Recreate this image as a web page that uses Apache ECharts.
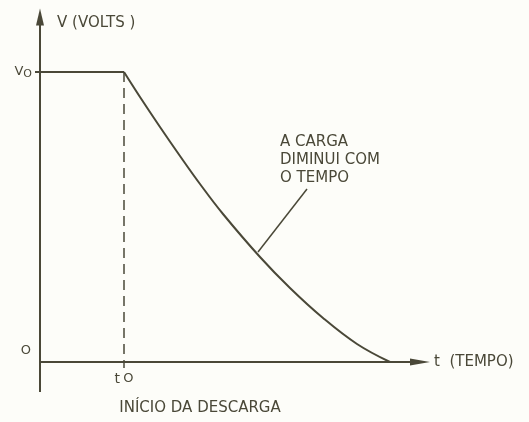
<!DOCTYPE html>
<html lang="pt">
<head>
    <meta charset="UTF-8">
    <title>Descarga</title>
    <script src="https://cdn.jsdelivr.net/npm/echarts@6/dist/echarts.min.js"></script>
</head>
<body style="margin:0; background:#fdfdf9;">

<div id="main" style="width:529px; height:422px;"></div>

<script>
    // valores (unidades arbitrarias)
    var v0 = 290;
    var t0 = 84;
    var flatT = [0, 84];
    var flatV = [290, 290];
    var curveT = [84, 100, 120, 140, 160, 183, 220, 250, 283, 317, 350];
    var curveV = [290, 265, 235, 206, 178, 148, 105, 74, 44, 18, 0];
    var dashT = [84, 84];
    var dashV = [290, -6];
    var leaderT = [218, 267];
    var leaderV = [110, 173];
    // prolongamento dos eixos para alem da origem
    var axisExtT = [-30, 0];
    var axisExtV = [-30, 0];

    var ink = '#4a4838';
    var font = 'DejaVu Sans';

    function pairs(xs, ys) {
        return xs.map(function (x, i) { return [x, ys[i]]; });
    }

    var chart = echarts.init(document.getElementById('main'));
    chart.setOption({
        backgroundColor: '#fdfdf9',
        animation: false,
        grid: { left: 40, right: 109, top: 17, bottom: 60, outerBoundsMode: 'none' },
        xAxis: {
            type: 'value',
            min: 0,
            max: 380,
            splitLine: { show: false },
            axisTick: { show: false },
            axisLine: {
                onZero: false,
                symbol: ['none', 'triangle'],
                symbolSize: [7, 20],
                lineStyle: { color: ink, width: 2 }
            },
            axisLabel: {
                customValues: [t0],
                margin: 10,
                formatter: function () { return '{t|t} {o|O}'; },
                rich: {
                    t: { fontSize: 14, fontFamily: font, color: ink },
                    o: { fontSize: 13, fontFamily: font, color: ink }
                }
            },
            name: 't  (TEMPO)',
            nameLocation: 'end',
            nameGap: 14,
            nameTextStyle: { fontSize: 15, fontFamily: font, color: ink }
        },
        yAxis: {
            type: 'value',
            min: 0,
            max: 345,
            splitLine: { show: false },
            axisTick: {
                customValues: [v0],
                length: 5,
                lineStyle: { color: ink, width: 2 }
            },
            axisLine: {
                onZero: false,
                symbol: ['none', 'triangle'],
                symbolSize: [8, 17],
                lineStyle: { color: ink, width: 2 }
            },
            axisLabel: {
                customValues: [0, v0],
                margin: 8,
                formatter: function (val) {
                    return val === 0 ? '{z|O}' : '{v|V}{o|O}';
                },
                rich: {
                    z: { fontSize: 13, fontFamily: font, color: ink, padding: [0, 1, 22, 0] },
                    v: { fontSize: 13, fontFamily: font, color: ink },
                    o: { fontSize: 11, fontFamily: font, color: ink, padding: [5, 0, 0, 0] }
                }
            },
            name: 'V (VOLTS )',
            nameLocation: 'end',
            nameGap: -6,
            nameTextStyle: {
                fontSize: 15, fontFamily: font, color: ink,
                align: 'left', verticalAlign: 'middle', padding: [0, 0, 0, 17]
            }
        },
        series: [{
            type: 'line',
            data: pairs(axisExtT, [0, 0]),
            symbol: 'none',
            clip: false,
            lineStyle: { color: ink, width: 2 }
        }, {
            type: 'line',
            data: pairs([0, 0], axisExtV),
            symbol: 'none',
            clip: false,
            lineStyle: { color: ink, width: 2 }
        }, {
            type: 'line',
            data: pairs(flatT, flatV),
            symbol: 'none',
            lineStyle: { color: ink, width: 2 }
        }, {
            type: 'line',
            data: pairs(curveT, curveV),
            symbol: 'none',
            smooth: 0.4,
            lineStyle: { color: ink, width: 2 }
        }, {
            type: 'line',
            data: pairs(dashT, dashV),
            symbol: 'none',
            clip: false,
            lineStyle: { color: ink, width: 1.5, type: [10, 6] }
        }, {
            type: 'line',
            data: pairs(leaderT, leaderV),
            symbol: 'none',
            lineStyle: { color: ink, width: 1.5 }
        }],
        graphic: [{
            type: 'text',
            left: 280,
            top: 133,
            style: {
                text: 'A CARGA\nDIMINUI COM\nO TEMPO',
                fontSize: 15,
                fontFamily: font,
                lineHeight: 18,
                fill: ink
            }
        }, {
            type: 'text',
            x: 200,
            y: 408,
            style: {
                text: 'INÍCIO DA DESCARGA',
                fontSize: 15,
                fontFamily: font,
                fill: ink,
                align: 'center',
                verticalAlign: 'middle'
            }
        }]
    });
</script>
</body>
</html>
